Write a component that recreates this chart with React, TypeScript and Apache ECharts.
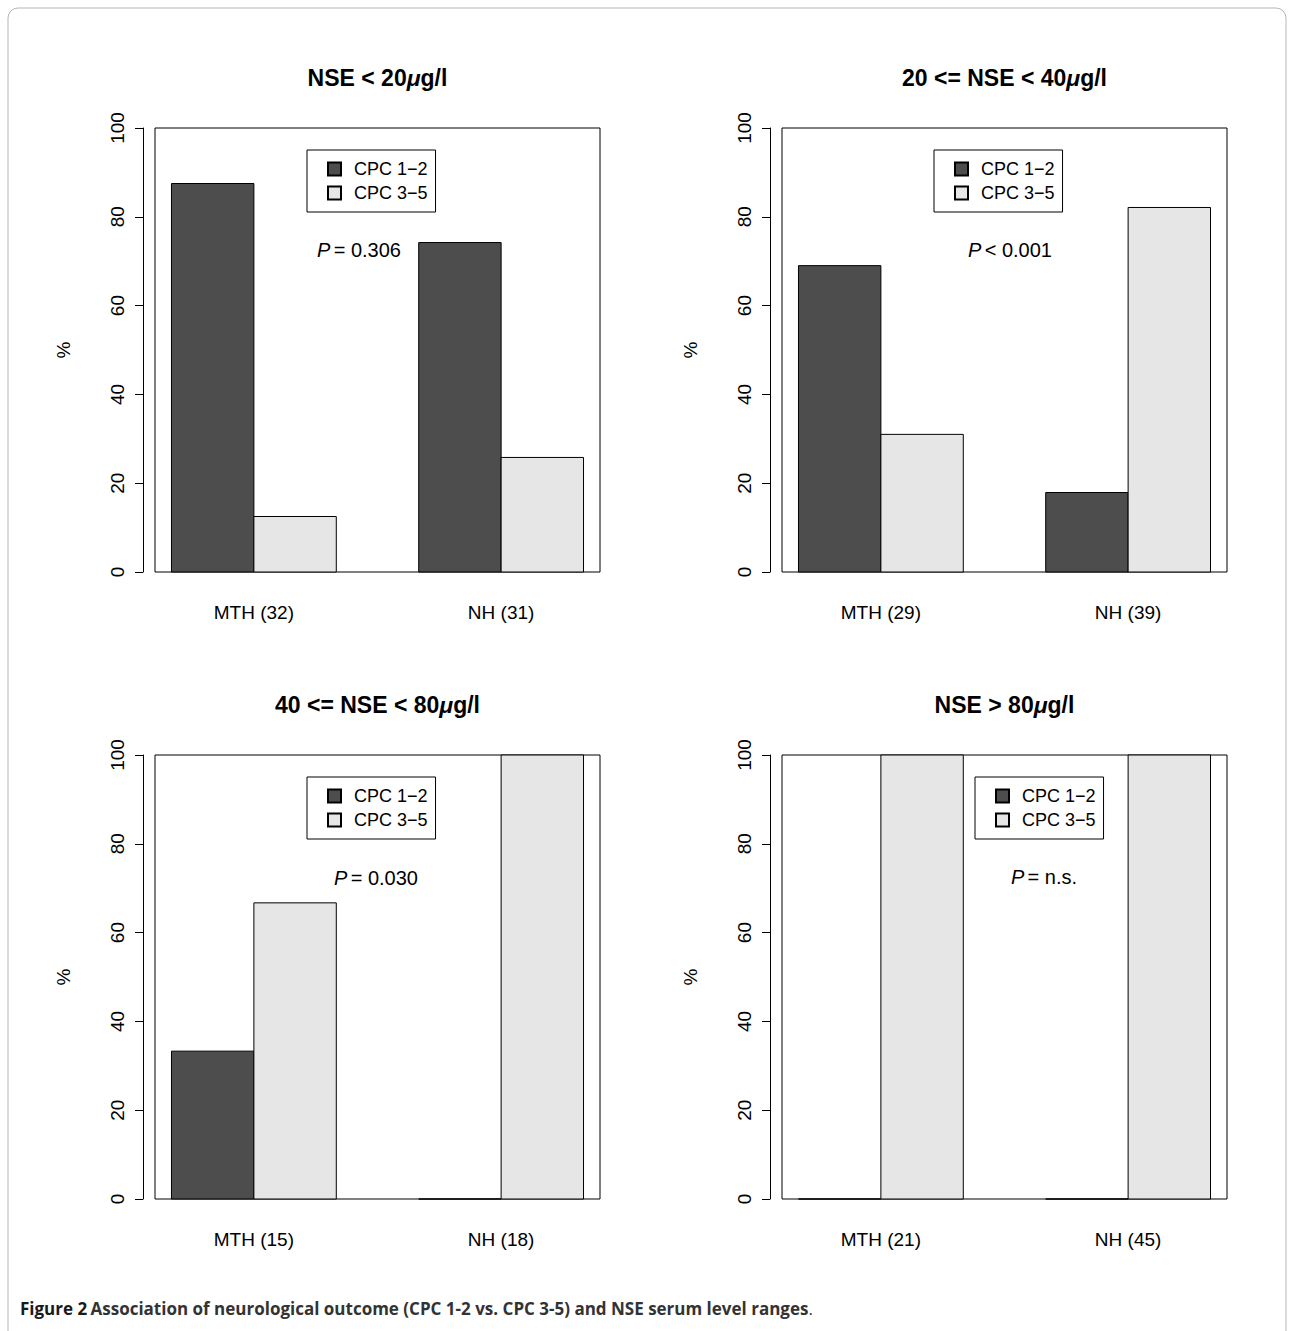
import { useEffect, useRef } from 'react'
import * as echarts from 'echarts'

const panelTitles = ['NSE < 20', '20 <= NSE < 40', '40 <= NSE < 80', 'NSE > 80']
const groupLabels = [
  ['MTH (32)', 'NH (31)'],
  ['MTH (29)', 'NH (39)'],
  ['MTH (15)', 'NH (18)'],
  ['MTH (21)', 'NH (45)'],
]
const cpcGood = [
  [87.5, 74.2],
  [69.0, 17.9],
  [33.3, 0],
  [0, 0],
]
const cpcPoor = [
  [12.5, 25.8],
  [31.0, 82.1],
  [66.7, 100],
  [100, 100],
]
const pValues = ['= 0.306', '< 0.001', '= 0.030', '= n.s.']
const seriesNames = ['CPC 1\u22122', 'CPC 3\u22125']
const yTicks = [0, 20, 40, 60, 80, 100]

const FONT = '"Liberation Sans", Arial, sans-serif'
const DARK = '#4d4d4d'
const LIGHT = '#e6e6e6'

const panels = [
  { left: 155, top: 128, legendLeft: 307, pX: 359, pY: 250 },
  { left: 782, top: 128, legendLeft: 934, pX: 1010, pY: 250 },
  { left: 155, top: 755, legendLeft: 307, pX: 376, pY: 878 },
  { left: 782, top: 755, legendLeft: 975, pX: 1044, pY: 877 },
]
const W = 445
const H = 444

export default function App() {
  const ref = useRef<HTMLDivElement>(null)

  useEffect(() => {
    if (!ref.current) return
    const chart = echarts.init(ref.current, undefined, { renderer: 'svg' })

    const barSeries = (i: number, k: number) => {
      const vals = k === 0 ? cpcGood[i] : cpcPoor[i]
      // group g occupies x in [1+3g, 3+3g]; bar k is [1+3g+k, 2+3g+k]
      return {
        type: 'custom',
        name: seriesNames[k],
        xAxisIndex: i,
        yAxisIndex: i,
        itemStyle: { color: k === 0 ? DARK : LIGHT, borderColor: '#000', borderWidth: 1 },
        data: vals.map((v, g) => [1 + 3 * g + k, 2 + 3 * g + k, v]),
        renderItem: (_p: any, api: any) => {
          const a = api.coord([api.value(0), api.value(2)])
          const b = api.coord([api.value(1), 0])
          return {
            type: 'rect',
            shape: { x: a[0], y: a[1], width: b[0] - a[0], height: b[1] - a[1] },
            style: { fill: k === 0 ? DARK : LIGHT, stroke: '#000', lineWidth: 1 },
          }
        },
      }
    }

    const labelSeries = (i: number) => ({
      type: 'custom',
      xAxisIndex: i,
      yAxisIndex: i,
      silent: true,
      data: groupLabels[i].map((_, g) => [2 + 3 * g, 0]),
      renderItem: (p: any, api: any) => {
        const c = api.coord([api.value(0), 0])
        return {
          type: 'text',
          x: c[0],
          y: c[1] + 40,
          style: {
            text: groupLabels[i][p.dataIndex],
            fontSize: 19,
            fontFamily: FONT,
            fill: '#000',
            align: 'center',
            verticalAlign: 'middle',
          },
        }
      },
    })

    const series: any[] = []
    panels.forEach((_, i) => {
      series.push(barSeries(i, 0), barSeries(i, 1), labelSeries(i))
    })

    const titleRich = {
      b: { fontSize: 23, fontWeight: 'bold', fontFamily: FONT, fill: '#000' },
      m: { fontSize: 23, fontWeight: 'bold', fontStyle: 'italic', fontFamily: FONT, fill: '#000' },
    }

    const graphic: any[] = [
      {
        type: 'rect',
        shape: { x: 8, y: 8, width: 1278, height: 1360, r: 10 },
        style: { fill: 'none', stroke: '#b5b5b5', lineWidth: 1 },
      },
      {
        type: 'text',
        x: 20,
        y: 1308,
        style: {
          text: '{a|Figure 2} {b|Association of neurological outcome (CPC 1-2 vs. CPC 3-5) and NSE serum level ranges}{c|.}',
          verticalAlign: 'middle',
          rich: {
            a: { fontSize: 17, fontWeight: 'bold', fontFamily: '"Open Sans", sans-serif', fill: '#1a1a1a' },
            b: { fontSize: 17, fontWeight: 'bold', fontFamily: '"Open Sans", sans-serif', fill: '#333' },
            c: { fontSize: 17, fontFamily: '"Open Sans", sans-serif', fill: '#333' },
          },
        },
      },
    ]
    panels.forEach((p, i) => {
      graphic.push({
        type: 'text',
        x: p.left + W / 2,
        y: p.top - 50,
        style: {
          text: `{b|${panelTitles[i]}}{m|\u03bc}{b|g/l}`,
          align: 'center',
          verticalAlign: 'middle',
          rich: titleRich,
        },
      })
      graphic.push({
        type: 'text',
        x: p.pX,
        y: p.pY,
        style: {
          text: `{i|P} {n|${pValues[i]}}`,
          align: 'center',
          verticalAlign: 'middle',
          rich: {
            i: { fontSize: 20, fontStyle: 'italic', fontFamily: FONT, fill: '#000' },
            n: { fontSize: 20, fontFamily: FONT, fill: '#000' },
          },
        },
      })
    })

    chart.setOption({
      animation: false,
      textStyle: { fontFamily: FONT },
      grid: panels.map(p => ({
        left: p.left,
        top: p.top,
        width: W,
        height: H,
        show: true,
        borderColor: '#000',
        borderWidth: 1,
        backgroundColor: 'transparent',
      })),
      xAxis: panels.map((_, i) => ({
        type: 'value',
        gridIndex: i,
        min: 0.8,
        max: 6.2,
        show: false,
      })),
      yAxis: panels.map((_, i) => ({
        type: 'value',
        gridIndex: i,
        min: yTicks[0],
        max: yTicks[yTicks.length - 1],
        interval: 20,
        offset: 12,
        name: '%',
        nameLocation: 'middle',
        nameRotate: 90,
        nameGap: 70,
        nameTextStyle: { fontSize: 19, color: '#000', fontFamily: FONT },
        axisLine: { show: true, lineStyle: { color: '#000', width: 1 } },
        axisTick: { show: true, length: 8, lineStyle: { color: '#000' } },
        axisLabel: { rotate: 90, fontSize: 19, color: '#000', margin: 16, fontFamily: FONT },
        splitLine: { show: false },
      })),
      legend: panels.map(p => ({
        data: seriesNames,
        left: p.legendLeft,
        top: p.top + 22,
        orient: 'vertical',
        borderColor: '#000',
        borderWidth: 1,
        borderRadius: 0,
        padding: [10, 8, 10, 20],
        itemGap: 6,
        itemWidth: 13,
        itemHeight: 13,
        icon: 'rect',
        selectedMode: false,
        textStyle: { fontSize: 18, color: '#000', fontFamily: FONT, padding: [0, 0, 0, 8] },
      })),
      series,
      graphic,
    })

    return () => chart.dispose()
  }, [])

  return (
    <div
      ref={ref}
      style={{ position: 'absolute', left: 0, top: 0, width: 1294, height: 1331, background: '#fff' }}
    />
  )
}
